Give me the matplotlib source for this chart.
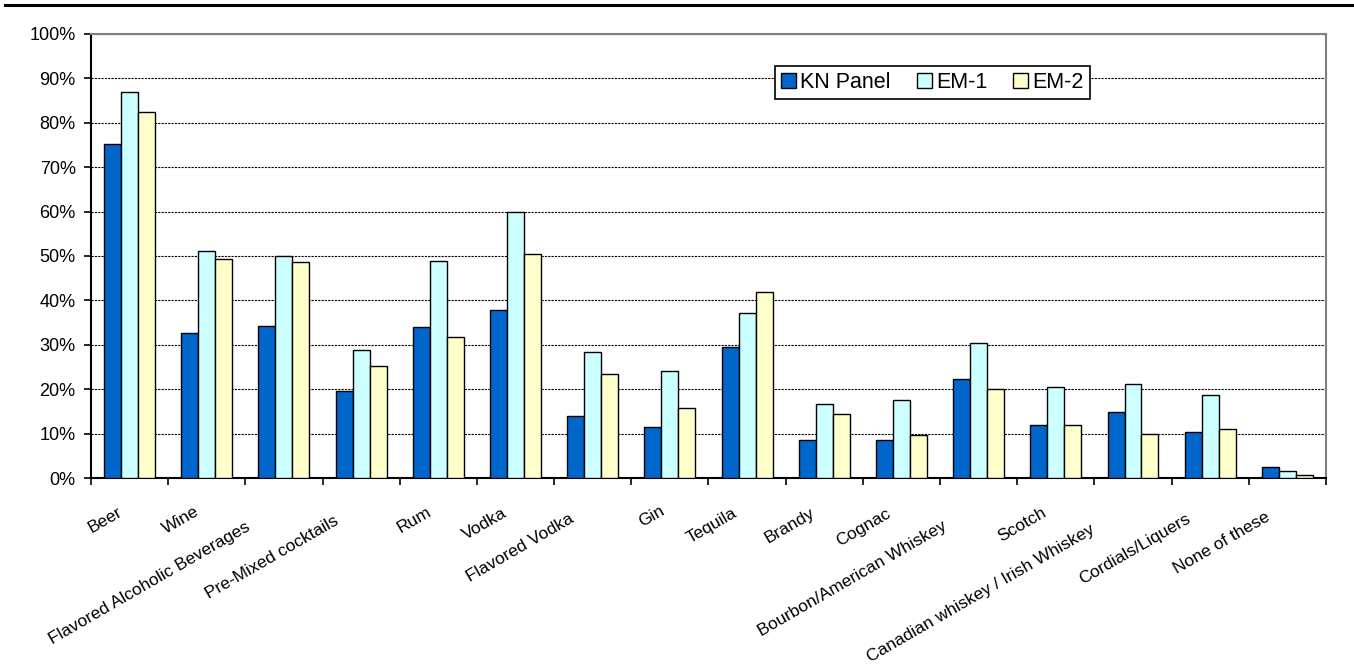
import numpy as np
import matplotlib
matplotlib.use("Agg")
import matplotlib.pyplot as plt
import matplotlib.transforms as mtransforms
from matplotlib.patches import Patch
from matplotlib.lines import Line2D
from matplotlib.font_manager import FontProperties

plt.rcParams['font.family'] = ['Liberation Sans', 'DejaVu Sans']

# Share of respondents who drank each beverage, by sample
categories = ["Beer", "Wine", "Flavored Alcoholic Beverages", "Pre-Mixed cocktails",
              "Rum", "Vodka", "Flavored Vodka", "Gin", "Tequila", "Brandy", "Cognac",
              "Bourbon/American Whiskey", "Scotch", "Canadian whiskey / Irish Whiskey",
              "Cordials/Liquers", "None of these"]
kn_panel = [75.3, 32.7, 34.2, 19.7, 33.9, 37.8, 14.0, 11.5, 29.6, 8.6, 8.6, 22.4, 11.9, 14.8, 10.4, 2.5]
em_1     = [86.9, 51.1, 50.1, 28.8, 48.9, 59.9, 28.4, 24.1, 37.2, 16.6, 17.6, 30.3, 20.6, 21.2, 18.8, 1.5]
em_2     = [82.4, 49.3, 48.6, 25.2, 31.7, 50.5, 23.4, 15.8, 41.8, 14.4, 9.7, 20.1, 11.9, 9.8, 11.1, 0.7]
series_names = ["KN Panel", "EM-1", "EM-2"]
series_colors = ["#0066CC", "#CCFFFF", "#FFFFCC"]
y_ticks = list(range(0, 101, 10))

DPI = 100
fig = plt.figure(figsize=(13.54, 6.69), dpi=DPI)
ax = fig.add_axes([0.0672, 0.2855, 0.9121, 0.6637])

x = np.arange(len(categories))
bw = 0.22
for k, (vals, col, name) in enumerate(zip([kn_panel, em_1, em_2], series_colors, series_names)):
    ax.bar(x + (k - 1) * bw, vals, width=bw, color=col, edgecolor="black",
           linewidth=1.0, zorder=3, label=name)

ax.set_xlim(-0.5, len(categories) - 0.5)
ax.set_ylim(0, 100)
ax.set_yticks(y_ticks)
ax.set_yticklabels([f"{v}%" for v in y_ticks], fontsize=13)
ax.yaxis.grid(True, color="black", linestyle=(0, (2, 1)), linewidth=0.8, zorder=0)
ax.set_axisbelow(True)

# category separators on the x axis, labels placed separately below
ax.set_xticks(np.arange(len(categories) + 1) - 0.5)
ax.set_xticklabels([])
ax.tick_params(axis="x", direction="out", length=5, width=1.2, color="black")
ax.tick_params(axis="y", direction="out", length=5, width=1.2, color="black", pad=6)

for side in ("left", "bottom"):
    ax.spines[side].set_color("black")
    ax.spines[side].set_linewidth(1.5)
for side in ("top", "right"):
    ax.spines[side].set_color("#808080")
    ax.spines[side].set_linewidth(1.5)

# rotated category labels, longer ones pushed further down along their own slant
fig.canvas.draw()
renderer = fig.canvas.get_renderer()
fp = FontProperties(family=['Liberation Sans', 'DejaVu Sans'], size=12.5)
ang = np.deg2rad(30)
base = ax.get_xaxis_transform()
for i, name in enumerate(categories):
    w, h, d = renderer.get_text_width_height_descent(name, fp, ismath=False)
    s = 0.16 * w
    dx = -7 - np.cos(ang) * s
    dy = -(23 + np.sin(ang) * s)
    tr = mtransforms.offset_copy(base, fig=fig, x=dx * 72 / DPI, y=dy * 72 / DPI, units="points")
    ax.text(i, 0, name, transform=tr, rotation=30, rotation_mode="anchor",
            ha="right", va="top", fontproperties=fp, clip_on=False)

handles = [Patch(facecolor=c, edgecolor="black", linewidth=1.0) for c in series_colors]
leg = fig.legend(handles, series_names, loc="center", ncol=3,
                 bbox_to_anchor=(932.5 / 1354, 1 - 82.5 / 669), bbox_transform=fig.transFigure,
                 fontsize=15.5, handlelength=0.7, handleheight=0.7, handletextpad=0.2,
                 columnspacing=1.2, borderpad=0.3, fancybox=False, framealpha=1,
                 edgecolor="black")
leg.get_frame().set_linewidth(1.2)

# separator rule across the top of the page
fig.add_artist(Line2D([5 / 1354, 1.0], [1 - 5 / 669, 1 - 5 / 669], color="black",
                      linewidth=2.2, transform=fig.transFigure))

fig.savefig("out.png", dpi=DPI, facecolor="white")
